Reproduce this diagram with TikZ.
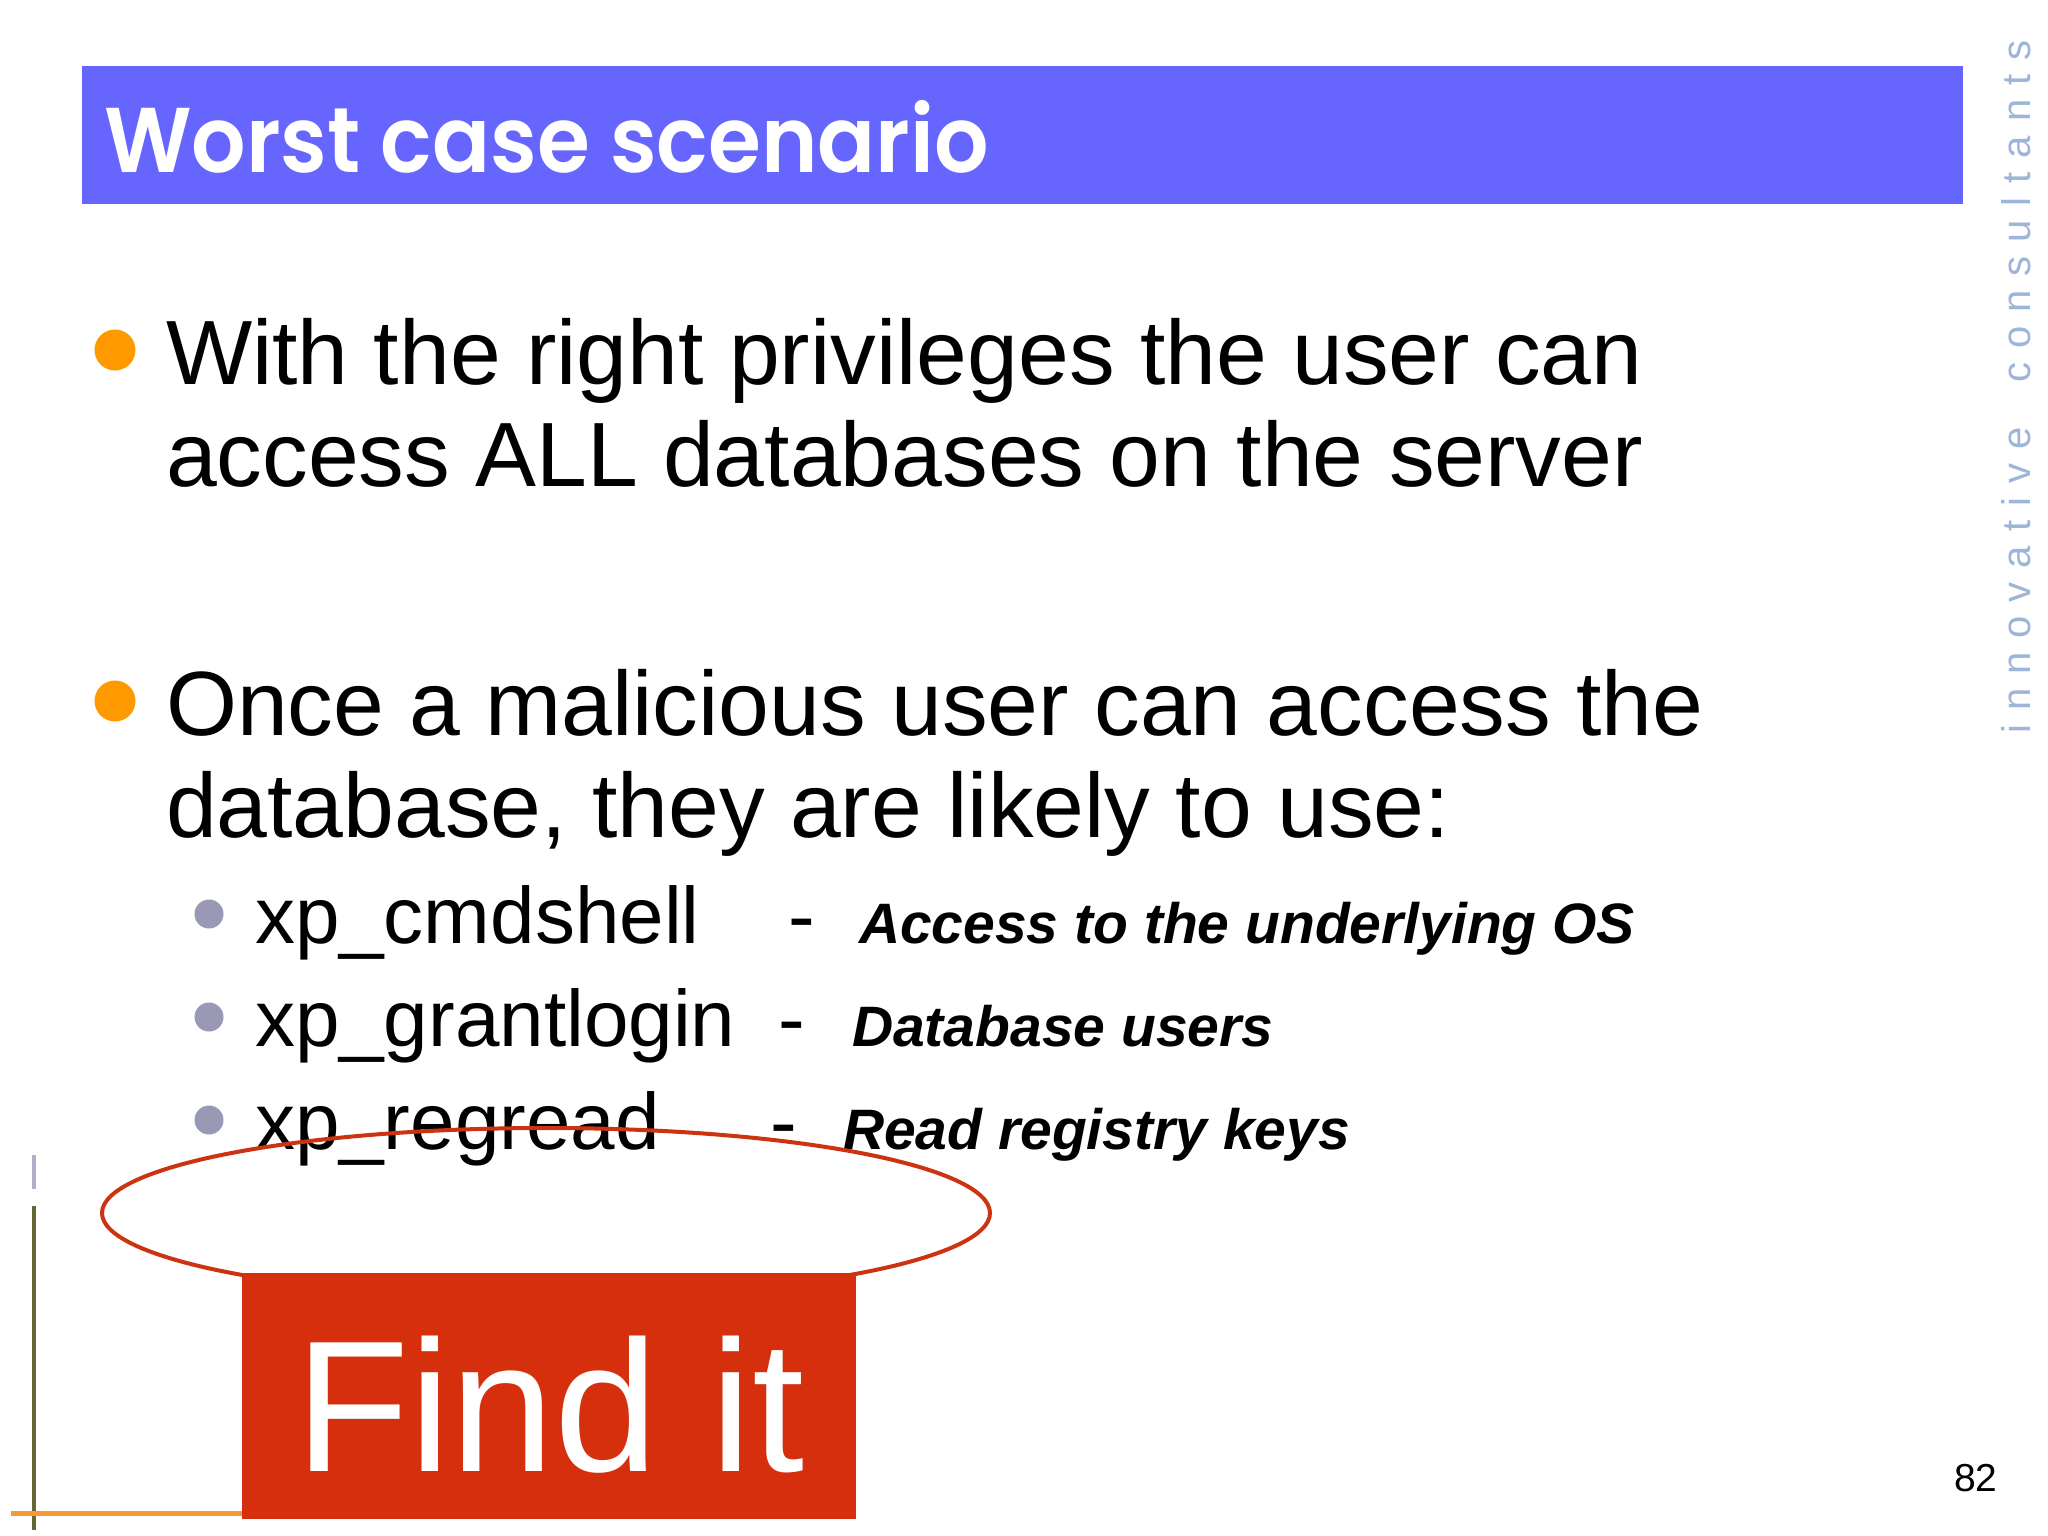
\documentclass[tikz,border=0pt]{standalone}
\usepackage{fontspec}
\setmainfont{Liberation Sans}
\newfontfamily\titlefont{Poppins}[BoldFont={Poppins SemiBold}]
\newfontfamily\sidefont{Liberation Sans}[LetterSpace=35]
\definecolor{titlebar}{HTML}{6666FF}
\definecolor{findred}{HTML}{D52F0D}
\definecolor{ringred}{HTML}{CC3311}
\definecolor{bulletorange}{HTML}{FF9900}
\definecolor{bulletgrey}{HTML}{9999B5}
\definecolor{sideblue}{HTML}{9DB5D8}
\definecolor{olive}{HTML}{666633}
\definecolor{lavender}{HTML}{B0B0CC}
\definecolor{rule}{HTML}{F79A33}
\tikzset{
  txt/.style={anchor=base west,inner sep=0pt,outer sep=0pt,text=black},
  mainitem/.style={txt,font=\fontsize{91.3}{102}\selectfont},
  subitem/.style={txt,font=\fontsize{80}{90}\selectfont},
  note/.style={txt,font=\fontsize{57}{64}\selectfont\bfseries\itshape},
  bigdot/.style={circle,fill=bulletorange,minimum size=41pt,inner sep=0pt},
  smalldot/.style={circle,fill=bulletgrey,minimum size=29pt,inner sep=0pt},
}
\begin{document}
\begin{tikzpicture}[x=1pt,y=-1pt]
\useasboundingbox (0,0) rectangle (2048,1536);
\fill[white] (0,0) rectangle (2048,1536);
\fill[titlebar] (82,66) rectangle (1963,204);
\node[txt,text=white,font=\fontsize{92}{100}\titlefont\bfseries\selectfont] (title) at (104,172) {\scalebox{0.93}[1]{Worst case scenario}};
\node[rotate=90,anchor=base west,inner sep=0pt,text=sideblue,font=\fontsize{40}{44}\sidefont\selectfont] (side) at (2030,734) {innovative\hspace*{45pt}consultants};
\node[bigdot] (b1) at (115,350) {};
\node[mainitem] (l1) at (166,384) {With the right privileges the user can};
\node[mainitem] (l2) at (166,486) {access ALL databases on the server};
\node[bigdot] (b2) at (115,701) {};
\node[mainitem] (l3) at (166,735) {Once a malicious user can access the};
\node[mainitem] (l4) at (166,837) {database, they are likely to use:};
\node[smalldot] (s1) at (209,914) {};
\node[subitem] (c1) at (255,943) {xp\_cmdshell};
\node[subitem] (d1) at (788,943) {-};
\node[note] (n1) at (859,943) {Access to the underlying OS};
\node[smalldot] (s2) at (209,1017) {};
\node[subitem] (c2) at (255,1046) {xp\_grantlogin};
\node[subitem] (d2) at (778,1046) {-};
\node[note] (n2) at (852,1046) {Database users};
\node[smalldot] (s3) at (209,1120) {};
\node[subitem] (c3) at (255,1149) {xp\_regread};
\node[subitem] (d3) at (770,1149) {-};
\node[note] (n3) at (843,1149) {Read registry keys};
\fill[lavender] (32,1155) rectangle (36,1189);
\fill[olive] (32,1206) rectangle (36,1530);
\fill[rule] (11,1510.5) rectangle (242,1515.5);
\draw[ringred,line width=4pt] (546,1213) ellipse [x radius=444,y radius=85];
\node[fill=findred,minimum width=614pt,minimum height=246pt,inner sep=0pt] (box) at (549,1396) {};
\node[txt,text=white,font=\fontsize{187}{200}\selectfont] (find) at (295,1471) {Find it};
\node[txt,font=\fontsize{39}{44}\selectfont] (page) at (1954,1491) {82};
\end{tikzpicture}
\end{document}
